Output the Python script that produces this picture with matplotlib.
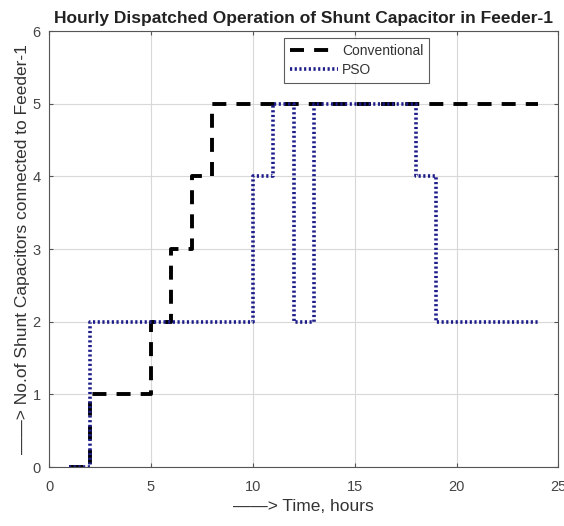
import numpy as np
import matplotlib.pyplot as plt

plt.rcParams['font.family'] = ['Liberation Sans', 'DejaVu Sans']

# Hourly capacitor switching schedule (hours 1..24)
hours = np.arange(1, 25)
conventional = [0, 1, 1, 1, 2, 3, 4, 5, 5, 5, 5, 5, 5, 5, 5, 5, 5, 5, 5, 5, 5, 5, 5, 5]
pso = [0, 2, 2, 2, 2, 2, 2, 2, 2, 4, 5, 2, 5, 5, 5, 5, 5, 4, 2, 2, 2, 2, 2, 2]

fig = plt.figure(figsize=(5.64, 5.26), dpi=100)
ax = fig.add_axes([0.087, 0.112, 0.903, 0.829])

ax.step(hours, conventional, where='post', color='black', linestyle='--',
        linewidth=2.8, dashes=(3.6, 2.6), label='Conventional')
ax.step(hours, pso, where='post', color='#1c1c8a', linestyle=':',
        linewidth=2.6, dashes=(0.6, 0.7), label='PSO')

ax.set_xlim(0, 25)
ax.set_ylim(0, 6)
ax.set_xticks([0, 5, 10, 15, 20, 25])
ax.set_yticks(range(0, 7))
ax.grid(True, color='#d8d8d8', linewidth=0.8)
ax.set_axisbelow(True)
ax.tick_params(direction='in', top=True, right=True, labelsize=10.5,
               colors='#555555', labelcolor='#444444', length=3)
ax.tick_params(axis='x', pad=9)
ax.tick_params(axis='y', pad=6)
for s in ax.spines.values():
    s.set_color('#555555')

ax.set_title('Hourly Dispatched Operation of Shunt Capacitor in Feeder-1',
             fontsize=12.5, fontweight='bold', color='#222222', pad=6)
ax.set_xlabel('——> Time, hours', fontsize=12.5, color='#333333', labelpad=4)
ax.set_ylabel('——> No.of Shunt Capacitors connected to Feeder-1',
              fontsize=12.5, color='#333333', labelpad=2)

leg = ax.legend(loc='upper left', bbox_to_anchor=(0.448, 1.0), fontsize=10,
                frameon=True, fancybox=False, edgecolor='#333333',
                handlelength=3.4, handletextpad=0.3, borderpad=0.45,
                labelspacing=0.35)
leg.get_frame().set_linewidth(0.8)
for t in leg.get_texts():
    t.set_color('#333333')

fig.savefig('out.png', dpi=100)
